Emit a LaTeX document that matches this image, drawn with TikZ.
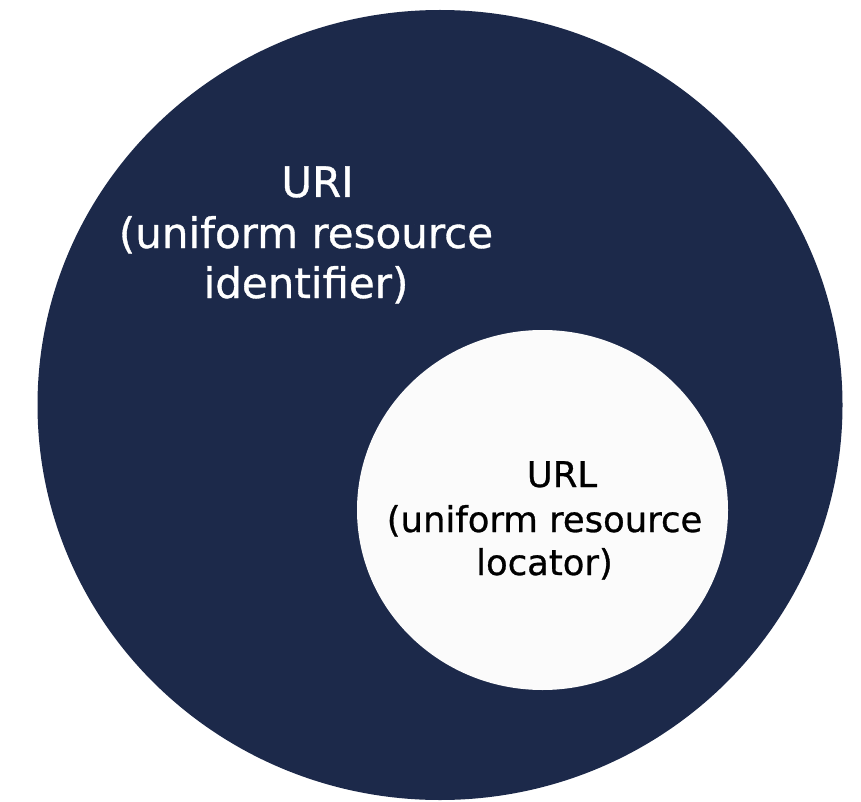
\documentclass[tikz,border=0pt]{standalone}
\usepackage{fontspec}
\usepackage{tikz}
\newfontfamily\setfont[FakeBold=0.8]{DejaVu Sans}
\definecolor{navy}{RGB}{28,41,74}
\definecolor{paper}{RGB}{251,251,251}
\tikzset{
	uriset/.style={fill=navy, draw=none},
	urlset/.style={fill=paper, draw=none},
	bigtext/.style={text=white, inner sep=0pt, align=center, font=\setfont\fontsize{42}{50}\selectfont},
	smalltext/.style={text=black, inner sep=0pt, align=center, font=\setfont\fontsize{35.4}{43}\selectfont}
}

\begin{document}
\begin{tikzpicture}[x=1pt, y=-1pt]
	\useasboundingbox (0,0) rectangle (861,802);

	% Sets
	\fill[uriset] (440,405) ellipse [x radius=402.5, y radius=395];
	\fill[urlset] (542.5,510) ellipse [x radius=185.5, y radius=180];

	% Labels
	\node[bigtext, anchor=base] (uri) at (317.5,197) {URI};
	\node[bigtext, anchor=base] (urifull) at (306,298) {(uniform resource\\identifier)};
	\node[smalltext, anchor=base] (url) at (562,487) {URL};
	\node[smalltext, anchor=base] (urlfull) at (544.5,575) {(uniform resource\\locator)};
\end{tikzpicture}
\end{document}
